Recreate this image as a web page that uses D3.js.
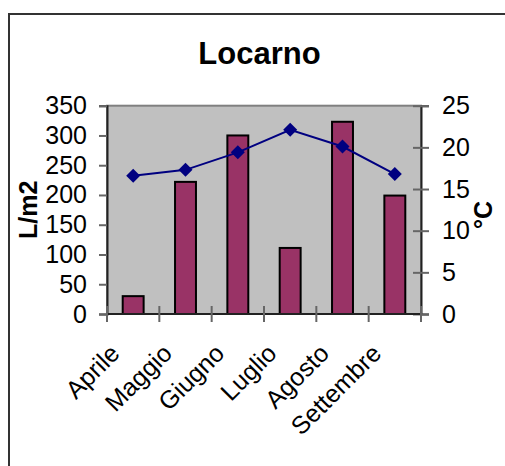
<!DOCTYPE html>
<html>
<head>
<meta charset="utf-8">
<script src="https://cdn.jsdelivr.net/npm/d3@7"></script>
<style>
  html, body { margin: 0; padding: 0; background: #fff; }
  svg { display: block; }
  text { font-family: Arial, "Liberation Sans", sans-serif; fill: #000; }
</style>
</head>
<body>
<svg id="chart" width="505" height="466"></svg>
<script>
// Monthly rainfall (bars, left axis) and mean temperature (line, right axis)
const months = ["Aprile", "Maggio", "Giugno", "Luglio", "Agosto", "Settembre"];
const rainfall = [30, 222, 300, 111, 323, 199];          // L/m2
const temperature = [16.6, 17.3, 19.4, 22.1, 20.1, 16.8]; // °C
const rainTicks = [0, 50, 100, 150, 200, 250, 300, 350];
const tempTicks = [0, 5, 10, 15, 20, 25];

const svg = d3.select("#chart");

const plot = { left: 107, right: 421, top: 105.7, bottom: 314 };

const x = d3.scaleBand()
  .domain(months)
  .range([plot.left, plot.right])
  .paddingInner(0.6)
  .paddingOuter(0.3);
const step = x.step();

const yL = d3.scaleLinear().domain([0, 350]).range([plot.bottom, plot.top]);
const yR = d3.scaleLinear().domain([0, 25]).range([plot.bottom, plot.top]);

// outer chart frame (runs past the right and bottom edges)
svg.append("rect")
  .attr("x", 9).attr("y", 14)
  .attr("width", 520).attr("height", 480)
  .attr("fill", "#fff")
  .attr("stroke", "#333").attr("stroke-width", 2);

// title
svg.append("text")
  .attr("x", 259.5).attr("y", 64)
  .attr("text-anchor", "middle")
  .attr("font-size", 31).attr("font-weight", "bold")
  .text("Locarno");

// plot area
svg.append("rect")
  .attr("x", plot.left).attr("y", plot.top)
  .attr("width", plot.right - plot.left).attr("height", plot.bottom - plot.top)
  .attr("fill", "#c0c0c0")
  .attr("stroke", "#808080").attr("stroke-width", 2);

// bars
svg.append("g").selectAll("rect")
  .data(months.map((m, i) => ({ m, v: rainfall[i] })))
  .join("rect")
  .attr("x", d => x(d.m))
  .attr("width", x.bandwidth())
  .attr("y", d => yL(d.v))
  .attr("height", d => yL(0) - yL(d.v))
  .attr("fill", "#993366")
  .attr("stroke", "#000").attr("stroke-width", 2);

// temperature line with diamond markers
const pts = months.map((m, i) => [x(m) + x.bandwidth() / 2, yR(temperature[i])]);
svg.append("path")
  .attr("d", d3.line()(pts))
  .attr("fill", "none")
  .attr("stroke", "#000080").attr("stroke-width", 2);
svg.append("g").selectAll("path")
  .data(pts)
  .join("path")
  .attr("transform", d => `translate(${d[0]},${d[1]})`)
  .attr("d", "M0,-7L7,0L0,7L-7,0Z")
  .attr("fill", "#000080");

// left axis
const axL = svg.append("g")
  .attr("transform", `translate(${plot.left},0)`)
  .call(d3.axisLeft(yL).tickValues(rainTicks).tickSize(8).tickPadding(12));
axL.select(".domain").attr("stroke", "#222").attr("stroke-width", 2);
axL.selectAll(".tick line").attr("stroke", "#666").attr("stroke-width", 2);
axL.selectAll(".tick text").attr("font-size", 25).attr("font-family", "Arial, 'Liberation Sans', sans-serif");

// right axis (ticks cross the axis line)
const axR = svg.append("g")
  .attr("transform", `translate(${plot.right},0)`)
  .call(d3.axisRight(yR).tickValues(tempTicks).tickSize(8).tickPadding(13));
axR.select(".domain").attr("stroke", "#222").attr("stroke-width", 2);
axR.selectAll(".tick line").attr("x1", -8).attr("stroke", "#666").attr("stroke-width", 2);
axR.selectAll(".tick text").attr("font-size", 25).attr("font-family", "Arial, 'Liberation Sans', sans-serif");

// category axis: ticks on category boundaries, crossing the axis
const xAxisG = svg.append("g");
xAxisG.append("line")
  .attr("x1", plot.left).attr("x2", plot.right)
  .attr("y1", plot.bottom).attr("y2", plot.bottom)
  .attr("stroke", "#222").attr("stroke-width", 2);
xAxisG.selectAll("line.tick")
  .data(d3.range(months.length + 1))
  .join("line")
  .attr("class", "tick")
  .attr("x1", i => plot.left + i * step).attr("x2", i => plot.left + i * step)
  .attr("y1", plot.bottom - 8).attr("y2", plot.bottom + 8)
  .attr("stroke", "#666").attr("stroke-width", 2);
xAxisG.selectAll("text")
  .data(months)
  .join("text")
  .attr("transform", m => `translate(${x(m) + x.bandwidth() / 2 - 12},${plot.bottom + 41}) rotate(-45)`)
  .attr("text-anchor", "end")
  .attr("font-size", 25)
  .text(m => m);

// axis titles
svg.append("text")
  .attr("transform", `translate(37,${(plot.top + plot.bottom) / 2}) rotate(-90)`)
  .attr("text-anchor", "middle")
  .attr("font-size", 25).attr("font-weight", "bold")
  .text("L/m2");
svg.append("text")
  .attr("transform", `translate(492,${(plot.top + plot.bottom) / 2 + 5}) rotate(-90)`)
  .attr("text-anchor", "middle")
  .attr("font-size", 25).attr("font-weight", "bold")
  .text("°C");
</script>
</body>
</html>
